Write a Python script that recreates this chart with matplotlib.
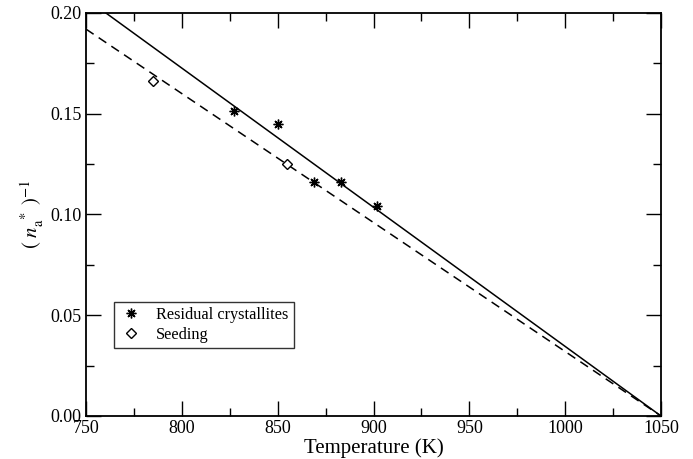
import matplotlib
matplotlib.use("Agg")
import matplotlib.pyplot as plt
import numpy as np
from matplotlib.ticker import MultipleLocator

plt.rcParams['font.family'] = ['Liberation Serif', 'DejaVu Serif']
plt.rcParams['mathtext.fontset'] = 'stix'

# Data
residual_T = [827, 850, 869, 883, 902]
residual_inv = [0.1514, 0.1447, 0.1163, 0.1163, 0.1044]
seeding_T = [785, 855]
seeding_inv = [0.1664, 0.1249]
# Fit lines (endpoints)
solid_T = [760.4, 1050]
solid_inv = [0.200, 0.0]
dashed_T = [750, 1050]
dashed_inv = [0.192, 0.0]

fig = plt.figure(figsize=(6.93, 4.59), dpi=100)
ax = fig.add_axes([86/693, 1-416/459, (661-86)/693, (416-13)/459])

ax.plot(solid_T, solid_inv, color='black', lw=1.1)
ax.plot(dashed_T, dashed_inv, color='black', lw=1.1, ls=(0, (6, 4)))
ax.plot(residual_T, residual_inv, ls='none', marker=(8, 2, 0), color='black', ms=7, mew=1.0,
        label='Residual crystallites')
ax.plot(seeding_T, seeding_inv, ls='none', marker='D', mfc='white', mec='black', ms=5.5, mew=1.0,
        label='Seeding')

ax.set_xlim(750, 1050)
ax.set_ylim(0, 0.2)
ax.xaxis.set_major_locator(MultipleLocator(50))
ax.xaxis.set_minor_locator(MultipleLocator(25))
ax.yaxis.set_major_locator(MultipleLocator(0.05))
ax.yaxis.set_minor_locator(MultipleLocator(0.025))
ax.yaxis.set_major_formatter(matplotlib.ticker.FormatStrFormatter('%.2f'))
ax.tick_params(which='both', direction='in', top=True, right=True, labelsize=13, width=1.0)
ax.tick_params(which='major', length=11, pad=3)
ax.tick_params(which='minor', length=5.5)
for s in ax.spines.values():
    s.set_linewidth(1.3)

ax.set_xlabel('Temperature (K)', fontsize=15, labelpad=1)
ax.set_ylabel(r'$(\ n_{\mathrm{a}}^{\ *}\ )^{-1}$', fontsize=15, labelpad=3)

leg = ax.legend(loc='lower left', bbox_to_anchor=((114-86)/575, (416-348)/403),
                fontsize=11.7, frameon=True, fancybox=False, edgecolor='black',
                handlelength=1.5, borderpad=0.3, labelspacing=0.25, handletextpad=0.8,
                borderaxespad=0)
leg.get_frame().set_linewidth(1.0)

fig.savefig('out.png', dpi=100)
